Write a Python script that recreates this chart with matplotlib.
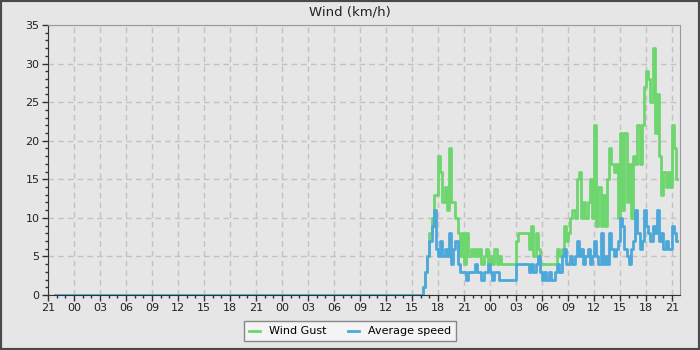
import pandas as pd
import matplotlib
matplotlib.use('Agg')
import matplotlib.pyplot as plt
import matplotlib.dates as mdates
from matplotlib.patches import Rectangle
from matplotlib.lines import Line2D

# --- DATA ---
AXIS_START = pd.Timestamp('2024-03-01 21:00')
AXIS_END = pd.Timestamp('2024-03-04 21:55')
QUIET_FROM = pd.Timestamp('2024-03-01 21:50')   # readings stay at 0 from here
ACTIVE_FROM = pd.Timestamp('2024-03-03 16:00')  # 15 min samples from here
DATA_END = pd.Timestamp('2024-03-04 21:36')

wind_gust = [0, 1, 3, 5, 8, 10, 13, 13, 18, 16,
             12, 14, 11, 19, 12, 12, 10, 8, 5, 8,
             4, 8, 5, 6, 5, 6, 5, 6, 4, 5,
             6, 4, 5, 4, 6, 4, 5, 4, 4, 4,
             4, 4, 4, 4, 7, 8, 8, 8, 8, 8,
             6, 9, 5, 8, 6, 4, 4, 4, 4, 4,
             4, 4, 4, 6, 5, 6, 9, 7, 8, 10,
             11, 10, 15, 16, 10, 12, 10, 12, 15, 10,
             22, 9, 14, 9, 13, 9, 15, 19, 17, 16,
             17, 10, 21, 11, 21, 12, 17, 10, 18, 17,
             22, 17, 22, 27, 29, 28, 25, 32, 21, 26,
             18, 13, 16, 14, 16, 14, 22, 19, 15]

avg_speed = [0, 1, 3, 5, 7, 9, 11, 6, 5, 7,
             5, 6, 5, 8, 4, 6, 7, 4, 3, 3,
             3, 2, 3, 3, 3, 4, 3, 3, 2, 3,
             3, 4, 3, 2, 3, 3, 2, 2, 2, 2,
             2, 2, 2, 2, 4, 4, 4, 4, 4, 4,
             3, 4, 3, 4, 5, 3, 2, 3, 2, 3,
             2, 2, 3, 4, 3, 5, 6, 4, 4, 5,
             4, 5, 7, 5, 6, 4, 5, 6, 4, 5,
             7, 5, 4, 8, 4, 5, 4, 8, 6, 5,
             6, 7, 10, 9, 6, 5, 4, 6, 7, 11,
             8, 6, 7, 11, 9, 8, 7, 9, 8, 11,
             7, 8, 6, 7, 6, 6, 9, 8, 7]

series_labels = ['Wind Gust', 'Average speed']
series_colors = ['#6ed66e', '#4da8da']

BG = '#e6e6e6'

# --- BUILD TIME AXIS ---
active = pd.date_range(ACTIVE_FROM, periods=len(wind_gust), freq='15min')
times = [QUIET_FROM] + list(active) + [DATA_END]
gust_vals = [0] + wind_gust + [wind_gust[-1]]
avg_vals = [0] + avg_speed + [avg_speed[-1]]

fig = plt.figure(figsize=(7, 3.5), dpi=100, facecolor=BG)
ax = fig.add_axes([48 / 700, 55 / 350, 632 / 700, 270 / 350])
ax.set_facecolor(BG)

# outer dark frame
fig.patches.append(Rectangle((0, 0), 1, 1, transform=fig.transFigure,
                             fill=False, edgecolor='#4a4a4a', linewidth=3,
                             zorder=10))

ax.step(times, gust_vals, where='post', color=series_colors[0], lw=2, zorder=3)
ax.step(times, avg_vals, where='post', color=series_colors[1], lw=2, zorder=4)

ax.set_xlim(AXIS_START, AXIS_END)
ax.set_ylim(0, 35)

ax.xaxis.set_major_locator(mdates.HourLocator(byhour=range(0, 24, 3)))
ax.xaxis.set_minor_locator(mdates.HourLocator())
ax.xaxis.set_major_formatter(mdates.DateFormatter('%H'))
ax.set_yticks(range(0, 36, 5))
ax.set_yticks(range(0, 36), minor=True)

ax.tick_params(which='major', length=4, width=1, color='#333333',
               labelsize=8, labelcolor='#222222', pad=2)
ax.tick_params(which='minor', length=2.5, width=1, color='#333333')

ax.grid(True, which='major', color='#c2c2c2', linestyle=(0, (4, 3)), lw=1)
ax.set_axisbelow(True)

for side in ['left', 'bottom']:
    ax.spines[side].set_color('#333333')
for side in ['top', 'right']:
    ax.spines[side].set_color('#999999')

fig.text(0.5, 1 - 12 / 350, 'Wind (km/h)', ha='center', va='center',
         fontsize=9.5, color='#222222')

handles = [Line2D([], [], color=c, lw=2) for c in series_colors]
fig.legend(handles, series_labels, loc='lower center',
           bbox_to_anchor=(0.5, 3 / 350), ncol=2, fontsize=8,
           frameon=True, fancybox=False, edgecolor='#888888',
           facecolor='#f4f4f4', framealpha=1, handlelength=1.0,
           columnspacing=2.0, borderpad=0.45)

fig.savefig('out.png', dpi=100, facecolor=BG)
